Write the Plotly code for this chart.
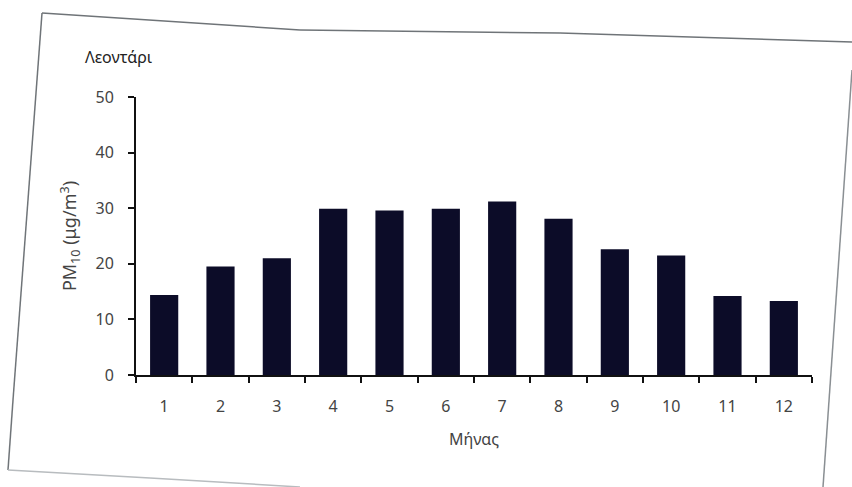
import plotly.graph_objects as go

# Monthly mean PM10 concentration, Leontari station
months = ["1", "2", "3", "4", "5", "6", "7", "8", "9", "10", "11", "12"]
pm10 = [14.4, 19.5, 21.0, 29.9, 29.6, 29.9, 31.2, 28.1, 22.6, 21.5, 14.2, 13.3]
y_ticks = [0, 10, 20, 30, 40, 50]

W, H = 852, 487
L, R, T, B = 136, 40, 97, 112
FONT = "Noto Sans"
TXT = "#444444"

fig = go.Figure(
    go.Bar(x=months, y=pm10, marker=dict(color="#0c0c28", line=dict(width=0)))
)


def px(x):
    return (x - L) / (W - L - R)


def py(y):
    return (H - B - y) / (H - T - B)


# thin page outline around the figure block
edges = [
    ([(42, 13), (300, 30), (560, 33), (852, 42)], "#6f7478"),
    ([(42, 13), (13, 400), (8, 470)], "#6f7478"),
    ([(852, 70), (823, 487)], "#8a8f93"),
    ([(8, 470), (150, 478), (300, 487)], "#b8bcbf"),
]
shapes = []
for pts, col in edges:
    for (x0, y0), (x1, y1) in zip(pts[:-1], pts[1:]):
        shapes.append(dict(type="line", xref="paper", yref="paper",
                           x0=px(x0), y0=py(y0), x1=px(x1), y1=py(y1),
                           line=dict(color=col, width=1.5)))

fig.update_layout(
    width=W, height=H,
    margin=dict(l=L, r=R, t=T, b=B),
    paper_bgcolor="white", plot_bgcolor="white",
    bargap=0.5,
    showlegend=False,
    font=dict(family=FONT, size=16, color=TXT),
    shapes=shapes,
    annotations=[dict(text="Λεοντάρι", xref="paper", yref="paper",
                      x=px(83), y=py(57), xanchor="left", yanchor="middle",
                      showarrow=False, font=dict(family=FONT, size=16, color="#222"))],
    xaxis=dict(
        type="category",
        showline=True, linecolor="#111", linewidth=2,
        ticks="outside", tickson="boundaries", ticklen=6, tickwidth=2, tickcolor="#111",
        ticklabelstandoff=16,
        showgrid=False, zeroline=False,
        tickfont=dict(size=16, color=TXT),
        title=dict(text="Μήνας", font=dict(size=16, color=TXT), standoff=18),
    ),
    yaxis=dict(
        range=[0, 50], tickvals=y_ticks,
        showline=True, linecolor="#111", linewidth=2,
        ticks="outside", ticklen=6, tickwidth=2, tickcolor="#111",
        ticklabelstandoff=11,
        showgrid=False, zeroline=False,
        tickfont=dict(size=16, color=TXT),
        title=dict(text="PM<sub>10</sub> (μg/m<sup>3</sup>)",
                   font=dict(size=18, color=TXT), standoff=14),
    ),
)

fig.write_html("out.html")
